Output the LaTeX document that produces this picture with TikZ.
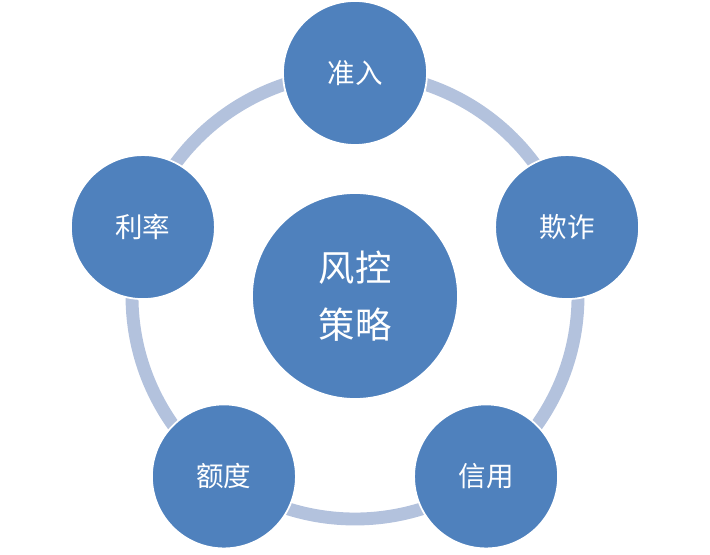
\documentclass[tikz,border=0pt]{standalone}
\usepackage{fontspec}
\setmainfont{Noto Sans CJK SC}
\usepackage{xcolor}
\usepackage{tikz}
\usetikzlibrary{calc}
\definecolor{rkfill}{HTML}{4F81BD}
\definecolor{rkring}{HTML}{B3C2DD}

\begin{document}
\begin{tikzpicture}[x=0.03cm,y=0.03cm,
        outer/.style={circle,draw=white,line width=1.5pt,fill=rkfill,text=white,minimum size=4.32cm,inner sep=0pt,font=\fontsize{23.5}{26}\selectfont},
        hub/.style={outer,minimum size=6.18cm,align=center,font=\fontsize{31}{49}\selectfont},
        ring/.style={draw=rkring,line width=11pt}]
        \useasboundingbox (0,0) rectangle (710,554);
        \node[hub] (c) at (355,258) {风控\\策略};
        \draw[ring] (c.center) circle (6.69cm);
        \node[outer] (zr) at ($(c.center)+(90:6.69cm)$) {准入};
        \node[outer] (qz) at ($(c.center)+(18:6.69cm)$) {欺诈};
        \node[outer] (xy) at ($(c.center)+(-54:6.69cm)$) {信用};
        \node[outer] (ed) at ($(c.center)+(-126:6.69cm)$) {额度};
        \node[outer] (ll) at ($(c.center)+(162:6.69cm)$) {利率};
      \end{tikzpicture}
\end{document}
